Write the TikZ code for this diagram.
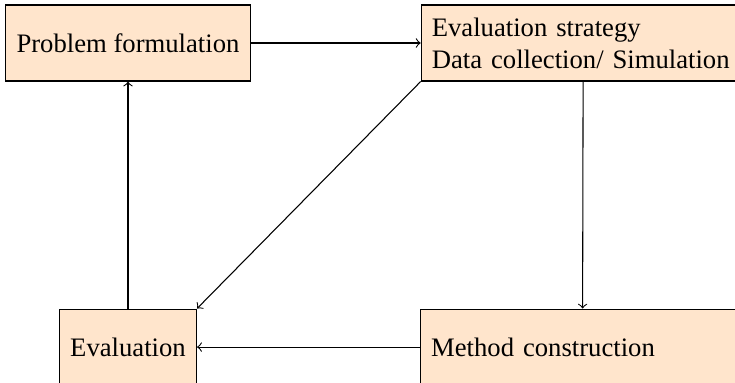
\documentclass[tikz,border=0pt]{standalone}
\usepackage{fontspec}
\setmainfont{Liberation Serif}
\usetikzlibrary{positioning}

\begin{document}
\begin{tikzpicture}[every node/.style={draw, fill=orange!20, inner sep=4pt, minimum height=28.5pt}]
  \clip (0,0) rectangle (275.625pt,-143.625pt);
  \node[minimum width=91.5pt] (prob) at (48pt,-16.125pt) {Problem formulation};
  \node[right = 63.75pt of prob, text width=113.5pt, align=left] (strat) {Evaluation strategy\\Data collection/ Simulation};
  \node[below = 85.125pt of prob, minimum width=51.4pt] (eval) {Evaluation};
  \node[right = 83.6pt of eval, text width=113.5pt, align=left] (method) {Method construction};
  \draw[->] (prob) -- (strat);
  \draw[->] (strat) -- (method);
  \draw[->] (strat.south west) -- (eval.north east);
  \draw[->] (method) -- (eval);
  \draw[->] (eval) -- (prob);
\end{tikzpicture}
\end{document}
